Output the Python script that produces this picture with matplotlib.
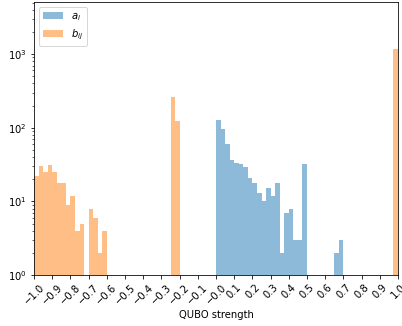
import numpy as np
import matplotlib
matplotlib.use("Agg")
import matplotlib.pyplot as plt

# bin edges: -1.0 .. 1.0 in steps of 0.025
edges = np.linspace(-1.0, 1.0, 81)
centers = (edges[:-1] + edges[1:]) / 2

# counts per bin for a_i (blue)
a_counts = np.zeros(80)
a_bins = list(range(40, 60)) + [66, 67]
a_vals = [128, 96, 60, 36, 33, 32, 29, 21, 18, 13, 10, 15, 12, 18, 2, 7, 8, 3, 3, 32, 2, 3]
a_counts[a_bins] = a_vals

# counts per bin for b_ij (orange)
b_counts = np.zeros(80)
b_bins = list(range(0, 16)) + [30, 31, 79]
b_vals = [22, 30, 25, 31, 25, 18, 18, 9, 12, 4, 5, 0, 8, 6, 2, 4, 260, 124, 1180]
b_counts[b_bins] = b_vals

xticks = np.round(np.arange(-1.0, 1.01, 0.1), 1)

fig = plt.figure(figsize=(402 / 72, 326 / 72), dpi=72)
ax = fig.add_axes([34 / 402, 51 / 326, 364 / 402, 273 / 326])

ax.hist(centers, bins=edges, weights=a_counts, alpha=0.5, color="tab:blue", label="$a_i$", log=True)
ax.hist(centers, bins=edges, weights=b_counts, alpha=0.5, color="tab:orange", label="$b_{ij}$", log=True)

ax.set_xlim(-1.0, 1.0)
ax.set_ylim(1, 5100)
ax.set_xticks(xticks)
ax.set_xticklabels([f"{t:.1f}".replace("-", "\u2212") for t in xticks], rotation=45)
ax.set_xlabel("QUBO strength")
ax.legend(loc="upper left")

fig.savefig("out.png", dpi=72)
